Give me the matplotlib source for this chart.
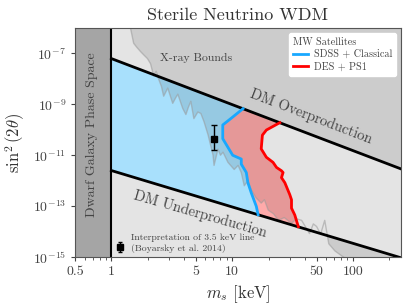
import numpy as np
import matplotlib
matplotlib.use("Agg")
import matplotlib.pyplot as plt
from matplotlib.patches import Polygon

plt.rcParams['font.family'] = 'cmr10'
plt.rcParams['mathtext.fontset'] = 'cm'
plt.rcParams['axes.formatter.use_mathtext'] = True

# DM production lines (end points, straight in log-log)
over_m = [1.0, 250.0]
over_s = [6.3e-8, 2.9e-12]
under_m = [1.0, 250.0]
under_s = [2.5e-12, 9.3e-16]

# SDSS + Classical bound (top -> bottom)
blue_m = [12.3, 9.8, 8.36, 8.36, 9.2, 10.1, 11.9, 11.9, 13.1, 13.5, 14.4, 15.85, 16.4]
blue_log = [-9.17, -9.55, -9.81, -10.35, -10.68, -11.0, -11.15, -11.35, -11.68, -12.08, -12.48, -13.01, -13.34]

# DES + PS1 bound (top -> bottom)
red_m = [24.8, 19.2, 17.8, 17.4, 19.2, 21.8, 23.3, 25.6, 26.4, 25.6, 27.3, 30.0, 31.0, 31.0, 33.0, 35.3]
red_log = [-9.72, -10.01, -10.21, -10.75, -11.08, -11.28, -11.48, -11.61, -11.68, -11.88, -12.08,
           -12.55, -12.75, -13.08, -13.35, -13.81]

# X-ray bounds edge
xray_m = [1.42, 1.44, 1.53, 1.62, 1.74, 1.85, 1.99, 2.11, 2.24, 2.35, 2.46, 2.6, 2.71, 2.93, 3.22, 3.4,
          3.55, 3.9, 4.14, 4.35, 4.55, 4.82, 5.2, 5.51, 5.85, 6.32, 6.95, 7.08, 7.63, 8.0, 8.4, 9.23,
          10.4, 11.2, 11.9, 12.6, 13.5, 14.4, 15.8, 17.4, 18.5, 19.9, 22.0, 24.2, 27.0, 31.0, 34.0,
          37.6, 43.7, 47.0, 50.0, 54.0, 58.4, 63.1, 70.9, 81.0, 92.6]
xray_log = [-5.8, -6.0, -6.6, -6.75, -6.92, -7.05, -7.2, -7.4, -7.88, -7.7, -8.0, -8.3, -8.68, -8.36,
            -8.96, -8.75, -8.6, -9.16, -9.4, -9.1, -8.88, -9.56, -9.3, -9.36, -9.68, -10.2, -11.0,
            -11.4, -10.76, -11.0, -10.88, -11.28, -11.56, -11.4, -11.68, -12.2, -12.0, -12.36,
            -12.68, -12.88, -12.75, -13.16, -13.3, -13.56, -13.45, -13.68, -13.5, -13.56, -14.08,
            -13.7, -13.8, -14.1, -13.56, -14.48, -14.76, -14.96, -15.16]

# 3.5 keV line interpretation
line_m = 7.1
line_s = 4.4e-11
line_lo = 1.6e-11
line_hi = 1.6e-10

xticks = [0.5, 1, 5, 10, 50, 100]
xticklabels = ['0.5', '1', '5', '10', '50', '100']
yticks = [1e-15, 1e-13, 1e-11, 1e-9, 1e-7]

blue_s = 10 ** np.array(blue_log)
red_s = 10 ** np.array(red_log)
xray_s = 10 ** np.array(xray_log)

fig = plt.figure(figsize=(4.11, 3.08), dpi=100)
ax = fig.add_axes([0.1825, 0.1656, 0.7932, 0.7434])
ax.set_xscale('log')
ax.set_yscale('log')
ax.set_xlim(0.5, 250)
ax.set_ylim(1e-15, 1e-6)
ax.set_facecolor('#e4e4e4')

# allowed regions
blue_poly = [(over_m[0], over_s[0])] + list(zip(blue_m, blue_s)) + [(under_m[0], under_s[0])]
ax.add_patch(Polygon(blue_poly, closed=True, facecolor='#a8e0fc', edgecolor='none', zorder=1))
red_poly = list(zip(blue_m, blue_s)) + list(zip(red_m, red_s))[::-1]
ax.add_patch(Polygon(red_poly, closed=True, facecolor='#ffaaaa', edgecolor='none', zorder=1))

# X-ray bounds
xray_poly = list(zip(xray_m, xray_s)) + [(300, 1e-16), (300, 1e-5), (xray_m[0], 1e-5)]
ax.add_patch(Polygon(xray_poly, closed=True, facecolor='black', alpha=0.1, edgecolor='none', zorder=2))

# band right of DES + PS1 stays light
band_poly = list(zip(red_m, red_s)) + [(under_m[1], under_s[1]), (over_m[1], over_s[1])]
ax.add_patch(Polygon(band_poly, closed=True, facecolor='#e4e4e4', edgecolor='none', zorder=3))
ax.plot(xray_m, xray_s, color='#999999', lw=1, alpha=0.55, zorder=4)

# dwarf galaxy phase space
ax.axvspan(0.5, 1, color='#a5a5a5', zorder=5, lw=0)
ax.axvline(1, color='black', lw=1.5, zorder=6)

ax.plot(over_m, over_s, color='black', lw=2, zorder=6)
ax.plot(under_m, under_s, color='black', lw=2, zorder=6)
ax.plot(blue_m, blue_s, color='#18a8ff', lw=2, zorder=7, label='SDSS + Classical')
ax.plot(red_m, red_s, color='#ff0000', lw=2, zorder=7, label='DES + PS1')

ax.errorbar([line_m], [line_s], yerr=[[line_s - line_lo], [line_hi - line_s]], fmt='s',
            color='black', ms=4, capsize=2, elinewidth=1, zorder=8)
ax.errorbar([1.19], [2.5e-15], yerr=[[0.9e-15], [1.4e-15]], fmt='s',
            color='black', ms=4, capsize=1.5, elinewidth=1, zorder=8)
ax.text(0.172, 0.061, 'Interpretation of 3.5 keV line\n(Boyarsky et al. 2014)', transform=ax.transAxes,
        fontsize=7, color='#444444', va='center', ha='left', zorder=9, linespacing=1.3)

txt = '#444444'
ax.text(0.371, 0.869, 'X-ray Bounds', transform=ax.transAxes, fontsize=8.5, color=txt,
        ha='center', va='center', zorder=9)
ax.text(0.724, 0.613, 'DM Overproduction', transform=ax.transAxes, fontsize=10.5, color=txt,
        ha='center', va='center', rotation=-21, zorder=9)
ax.text(0.383, 0.188, 'DM Underproduction', transform=ax.transAxes, fontsize=10.5, color=txt,
        ha='center', va='center', rotation=-16, zorder=9)
ax.text(0.052, 0.533, 'Dwarf Galaxy Phase Space', transform=ax.transAxes, fontsize=10, color=txt,
        ha='center', va='center', rotation=90, zorder=9)

ax.set_xticks(xticks)
ax.set_xticklabels(xticklabels)
ax.set_yticks(yticks)
ax.yaxis.set_minor_locator(matplotlib.ticker.NullLocator())
ax.tick_params(axis='both', which='major', labelsize=10, labelcolor='#444444', color='#444444',
               length=3)
ax.tick_params(axis='x', which='minor', color='#444444', length=2)
for sp in ax.spines.values():
    sp.set_color('#555555')
    sp.set_zorder(10)

ax.set_xlabel(r'$m_s$ [keV]', fontsize=12, color='#333333', labelpad=4)
ax.set_ylabel(r'$\sin^2(2\theta)$', fontsize=12, color='#333333', labelpad=4)
ax.set_title('Sterile Neutrino WDM', fontsize=13, color='#333333', pad=6)

leg = ax.legend(loc='upper right', title='MW Satellites', fontsize=7.3, title_fontsize=7.3,
                frameon=True, fancybox=True, framealpha=1, edgecolor='white',
                handlelength=1.5, borderpad=0.4, labelspacing=0.3, handletextpad=0.5)
leg.get_title().set_color('#444444')
for t in leg.get_texts():
    t.set_color('#444444')
leg._legend_box.align = 'left'
leg.set_zorder(11)

fig.savefig('out.png', dpi=100)
